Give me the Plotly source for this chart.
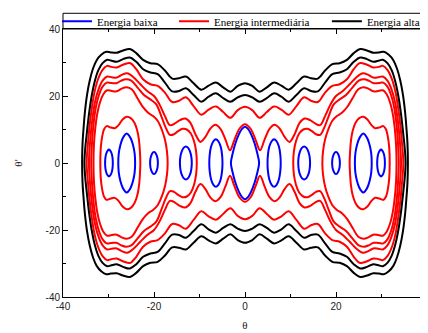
import plotly.graph_objects as go

# ---------------- data ----------------
# Quarter curves (theta >= 0, theta' >= 0), from theta = 0 out to the wall crossing
black1_th = [0, 1.6, 3.2, 4.8, 6.4, 8.0, 9.6, 11.3, 13.0, 14.5, 16.0, 17.6, 19.2, 20.8, 22.4, 23.9, 25.3, 26.8, 28.2, 29.5, 30.5, 31.6, 32.6, 33.4, 34.1, 34.7, 35.2, 35.5, 35.7, 35.8]
black1_dth = [23.8, 23.0, 21.3, 22.6, 24.0, 23.1, 21.9, 23.8, 25.8, 25.3, 25.2, 27.6, 29.5, 29.8, 30.8, 32.8, 34.0, 33.6, 32.9, 33.0, 33.2, 32.3, 30.7, 28.2, 24.8, 20.5, 15.0, 10.0, 6.0, 0]

black2_th = [0, 1.6, 3.2, 4.8, 6.4, 8.0, 9.6, 11.3, 13.0, 14.5, 16.0, 17.6, 19.2, 20.8, 22.4, 23.9, 25.3, 26.8, 28.2, 29.5, 30.3, 31.3, 32.2, 33.0, 33.7, 34.3, 34.8, 35.1, 35.3]
black2_dth = [20.3, 19.6, 18.3, 19.4, 20.8, 19.8, 18.3, 20.3, 22.3, 21.5, 21.4, 24.0, 26.5, 27.0, 28.0, 30.2, 31.5, 31.0, 30.2, 30.6, 30.8, 29.8, 27.8, 24.5, 20.0, 14.5, 8.5, 4.5, 0]

red1_th = [0, 1.6, 3.2, 4.8, 6.4, 8.0, 9.6, 11.3, 13.0, 14.5, 16.0, 17.6, 19.2, 20.8, 22.4, 23.9, 25.2, 26.7, 28.2, 29.4, 30.3, 31.3, 32.3, 33.1, 33.7, 34.2, 34.5, 34.8]
red1_dth = [16.8, 15.8, 13.5, 15.2, 16.9, 15.9, 14.4, 17.0, 19.6, 18.6, 18.2, 21.0, 23.0, 23.5, 25.0, 28.0, 29.8, 29.4, 28.5, 28.7, 29.0, 27.8, 25.0, 21.0, 16.0, 10.5, 6.0, 0]

red2_th = [0, 1.2, 2.3, 3.3, 4.3, 5.4, 6.5, 7.6, 8.7, 9.8, 10.9, 12.0, 13.1, 14.3, 15.4, 16.5, 17.6, 18.8, 20.0, 21.5, 23.0, 24.5, 25.9, 27.1, 28.2, 29.3, 30.3, 31.3, 32.2, 33.0, 33.6, 34.0, 34.3]
red2_dth = [11.6, 10.3, 7.0, 3.8, 7.0, 10.2, 11.4, 10.3, 7.8, 6.3, 8.6, 12.0, 13.3, 12.8, 11.8, 11.3, 14.0, 17.5, 20.0, 21.5, 23.5, 25.6, 26.8, 26.3, 25.5, 25.6, 25.8, 24.6, 22.0, 18.0, 12.5, 7.0, 0]

# Upper halves of closed curves on the right side (mirrored to the left side)
red3_th = [10.6, 10.75, 11.2, 11.9, 12.8, 13.7, 14.7, 15.6, 16.5, 17.4, 18.4, 19.5, 20.8, 22.2, 23.6, 25.0, 26.2, 27.3, 28.3, 29.4, 30.4, 31.3, 32.1, 32.8, 33.3, 33.6, 33.8]
red3_dth = [0, 3.5, 6.5, 8.8, 10.0, 10.2, 9.5, 8.6, 8.4, 10.5, 14.0, 17.5, 19.0, 20.3, 22.5, 24.6, 25.0, 24.5, 23.8, 23.9, 24.0, 22.8, 20.3, 16.5, 11.5, 6.5, 0]

red4_th = [17.0, 17.15, 17.6, 18.3, 19.2, 20.2, 21.3, 22.5, 23.7, 24.9, 26.0, 27.1, 28.2, 29.3, 30.3, 31.1, 31.9, 32.5, 32.9, 33.2, 33.3]
red4_dth = [0, 3.5, 7.0, 10.0, 12.6, 14.0, 15.0, 16.8, 19.5, 22.0, 22.6, 22.2, 21.4, 21.5, 21.7, 20.6, 18.0, 14.5, 10.5, 5.5, 0]

red5_th = [23.0, 23.1, 23.3, 23.7, 24.3, 25.1, 26.0, 26.9, 27.8, 28.6, 29.5, 30.4, 31.0, 31.4, 31.7, 31.8]
red5_dth = [0, 3.5, 6.8, 9.8, 12.0, 13.4, 13.8, 13.0, 11.3, 10.4, 10.6, 11.0, 10.0, 7.8, 4.5, 0]

# Low-energy closed orbits (upper halves)
blue0_th = [-3.1, -2.7, -2.1, -1.4, -0.7, 0, 0.7, 1.4, 2.1, 2.7, 3.1]
blue0_dth = [0, 2.9, 5.9, 8.4, 10.1, 10.8, 10.1, 8.4, 5.9, 2.9, 0]
blue6_th = [4.95, 5.05, 5.35, 5.85, 6.4, 6.95, 7.45, 7.75, 7.85]
blue6_dth = [0, 2.6, 4.9, 6.5, 7.1, 6.5, 4.9, 2.6, 0]
blue13_th = [11.7, 11.8, 12.1, 12.5, 13.0, 13.5, 13.9, 14.2, 14.3]
blue13_dth = [0, 1.9, 3.5, 4.5, 4.9, 4.5, 3.5, 1.9, 0]
blue20_th = [19.15, 19.22, 19.45, 19.72, 20.0, 20.28, 20.55, 20.78, 20.85]
blue20_dth = [0, 1.3, 2.4, 3.1, 3.3, 3.1, 2.4, 1.3, 0]
blue26_th = [24.15, 24.25, 24.6, 25.1, 25.6, 26.0, 26.4, 26.9, 27.4, 27.75, 27.85]
blue26_dth = [0, 2.8, 5.3, 7.3, 8.4, 8.8, 8.4, 7.3, 5.3, 2.8, 0]
blue30_th = [29.05, 29.12, 29.33, 29.62, 29.9, 30.18, 30.47, 30.68, 30.75]
blue30_dth = [0, 1.6, 2.9, 3.7, 4.0, 3.7, 2.9, 1.6, 0]

legend_names = ["Energia baixa", "Energia intermediária", "Energia alta"]
x_ticks = [-40, -20, 0, 20, 40]
x_tick_labels = ["-40", "-20", "0", "20", "40"]
y_ticks = [-40, -20, 0, 20, 40]
y_tick_labels = ["-40", "-20", "0", "20", "40"]

# ---------------- geometry helpers (mirror the symmetric picture) ----------------
def full_loop(th, dth):
    ur = list(zip(th, dth))
    lr = [(t, -p) for t, p in reversed(ur[:-1])]
    ll = [(-t, -p) for t, p in ur[1:]]
    ul = [(-t, p) for t, p in reversed(ur[:-1])]
    pts = ur + lr + ll + ul
    return [a for a, _ in pts], [b for _, b in pts]


def ring(th, dth):
    upper = list(zip(th, dth))
    lower = [(t, -p) for t, p in reversed(upper[1:-1])]
    r = upper + lower
    k = max(range(len(r)), key=lambda i: r[i][1])
    r = r[k:] + r[:k] + [r[k]]
    return [a for a, _ in r], [b for _, b in r]


def side_loops(th, dth):
    x, y = ring(th, dth)
    return [(x, y), ([-v for v in x], y)]


BLUE, RED, BLACK = "#0000ff", "#ff0000", "#000000"
groups = [
    (BLUE, legend_names[0], "legend",
     [ring(blue0_th, blue0_dth)]
     + side_loops(blue6_th, blue6_dth) + side_loops(blue13_th, blue13_dth)
     + side_loops(blue20_th, blue20_dth) + side_loops(blue26_th, blue26_dth)
     + side_loops(blue30_th, blue30_dth)),
    (RED, legend_names[1], "legend2",
     [full_loop(red1_th, red1_dth), full_loop(red2_th, red2_dth)]
     + side_loops(red3_th, red3_dth) + side_loops(red4_th, red4_dth)
     + side_loops(red5_th, red5_dth)),
    (BLACK, legend_names[2], "legend3",
     [full_loop(black1_th, black1_dth), full_loop(black2_th, black2_dth)]),
]

fig = go.Figure()
for color, name, leg, curves in groups:
    for i, (x, y) in enumerate(curves):
        fig.add_trace(go.Scatter(
            x=x, y=y, mode="lines", name=name, legendgroup=name, legend=leg,
            showlegend=(i == 0),
            line=dict(color=color, width=2, shape="spline", smoothing=1.0),
            hoverinfo="skip"))

axis_common = dict(
    range=[-40, 40], showgrid=False, zeroline=False, automargin=False,
    showline=True, linecolor="#000", linewidth=1, mirror="allticks",
    ticks="inside", ticklen=5, tickwidth=1, tickcolor="#000",
    minor=dict(dtick=10, ticks="inside", ticklen=3, tickwidth=1, tickcolor="#000"),
    tickfont=dict(family="Liberation Sans, Arial, sans-serif", size=10, color="#222"),
)

serif = "Liberation Serif, Times New Roman, serif"
legend_common = dict(orientation="h", yanchor="middle", y=1.029, xanchor="left",
                     bgcolor="rgba(0,0,0,0)", borderwidth=0, itemwidth=30,
                     font=dict(family=serif, size=11, color="#000"))

# The page body keeps an 8 px margin, so the figure is 420x325 and fills the 428x333 window.
fig.update_layout(
    width=420, height=325,
    margin=dict(l=55, r=1, t=21, b=36, autoexpand=False),
    paper_bgcolor="white", plot_bgcolor="white",
    xaxis=dict(axis_common, tickvals=x_ticks, ticktext=x_tick_labels,
               title=dict(text="θ", standoff=10, font=dict(family=serif, size=11, color="#222"))),
    yaxis=dict(axis_common, tickvals=y_ticks, ticktext=y_tick_labels,
               title=dict(text="θ'", standoff=20, font=dict(family=serif, size=11, color="#222"))),
    legend=dict(legend_common, x=-0.0165),
    legend2=dict(legend_common, x=0.305),
    legend3=dict(legend_common, x=0.725),
    shapes=[dict(type="rect", xref="paper", yref="paper", x0=0, x1=1, y0=1, y1=1.0586,
                 line=dict(color="#000", width=1), fillcolor="rgba(0,0,0,0)", layer="above")],
    showlegend=True,
)

fig.write_html("out.html")
